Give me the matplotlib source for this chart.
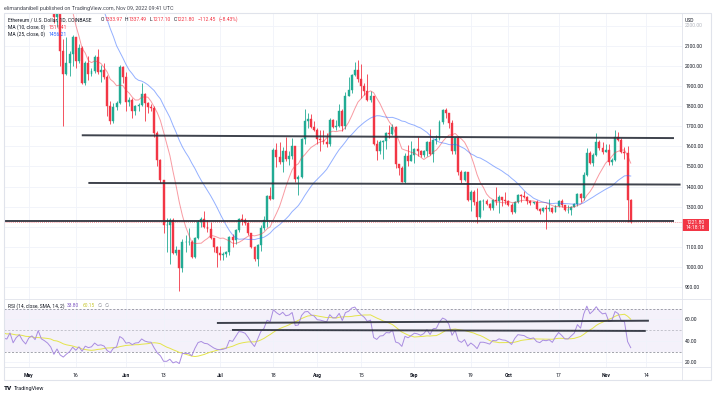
import numpy as np
import pandas as pd
import matplotlib
matplotlib.use('Agg')
import matplotlib.pyplot as plt
from matplotlib.lines import Line2D
from matplotlib.patches import Rectangle
from matplotlib.ticker import FuncFormatter

plt.rcParams['font.family'] = ['Roboto', 'DejaVu Sans']

# ETH/USD daily closes, Coinbase, 2022-03-10 .. 2022-11-09 (open = previous close)
closes_mar = [2610, 2555, 2570, 2520, 2590, 2620, 2775, 2815, 2945, 2950, 2860,
              2895, 2970, 3030, 3110, 3105, 3145, 3295, 3330, 3400, 3385, 3280]
closes_apr = [3450, 3445, 3525, 3520, 3410, 3170, 3235, 3190, 3260, 3210,
              2980, 3030, 3120, 3015, 3040, 3060, 2990, 3060, 3105, 3080,
              2985, 2965, 2935, 2920, 3005, 2810, 2890, 2935, 2815, 2730]
closes_may = [2825, 2860, 2780, 2940, 2750, 2700, 2635, 2520, 2245, 2340,
              2075, 1960, 2015, 2060, 2145, 2025, 2090, 1915, 2015, 1960,
              1975, 2045, 1970, 1980, 1945, 1800, 1725, 1795, 1815, 1995, 1945]
closes_jun = [1820, 1830, 1775, 1800, 1805, 1860, 1815, 1795, 1790, 1665,
              1530, 1435, 1210, 1210, 1235, 1070, 1085, 995, 1125, 1125,
              1125, 1050, 1145, 1225, 1240, 1200, 1190, 1145, 1100, 1070]
closes_jul = [1060, 1065, 1075, 1150, 1135, 1185, 1240, 1235, 1220, 1170,
              1100, 1040, 1110, 1195, 1235, 1355, 1340, 1580, 1545, 1520,
              1575, 1535, 1550, 1600, 1440, 1450, 1635, 1725, 1735, 1695, 1680]
closes_aug = [1635, 1630, 1620, 1610, 1730, 1695, 1700, 1775, 1700, 1850,
              1880, 1955, 1980, 1935, 1900, 1875, 1830, 1850, 1610, 1575,
              1620, 1625, 1665, 1660, 1695, 1510, 1490, 1425, 1550, 1525, 1555]
closes_sep = [1585, 1575, 1555, 1575, 1620, 1560, 1630, 1635, 1720, 1780,
              1765, 1715, 1575, 1640, 1470, 1435, 1470, 1335, 1375, 1325,
              1250, 1330, 1330, 1315, 1295, 1335, 1330, 1350, 1335, 1330]
closes_oct = [1310, 1275, 1325, 1360, 1355, 1350, 1330, 1320, 1325, 1290,
              1280, 1295, 1290, 1295, 1275, 1305, 1330, 1310, 1285, 1285,
              1300, 1315, 1365, 1345, 1460, 1565, 1515, 1555, 1620, 1590, 1570]
closes_nov = [1580, 1520, 1530, 1645, 1630, 1570, 1565, 1334, 1221.8]

# highs / lows from 2022-05-09 (earlier candles sit above the visible range)
highs_may = [2525, 2450, 2455, 2135, 2145, 2075, 2155, 2145, 2110, 2100, 2025, 2050,
             1990, 2055, 2085, 2005, 2015, 1955, 1825, 1815, 1825, 2005, 2000]
lows_may = [2215, 2195, 2000, 1700, 1955, 1950, 2000, 1990, 2015, 1910, 1905, 1930,
            1950, 1965, 1960, 1920, 1935, 1750, 1710, 1715, 1780, 1810, 1915]
highs_jun = [1970, 1845, 1840, 1805, 1815, 1915, 1865, 1820, 1810, 1800,
             1675, 1535, 1435, 1245, 1245, 1245, 1105, 1085, 1140, 1160,
             1195, 1135, 1150, 1235, 1250, 1280, 1235, 1225, 1145, 1105]
lows_jun = [1775, 1800, 1740, 1755, 1775, 1800, 1725, 1765, 1775, 1645,
            1500, 1420, 1170, 1075, 1015, 1065, 1060, 880, 975, 1075,
            1110, 1045, 1045, 1140, 1200, 1195, 1175, 1140, 1075, 1000]
highs_jul = [1105, 1075, 1080, 1155, 1165, 1190, 1245, 1265, 1245, 1225,
             1170, 1105, 1115, 1210, 1255, 1360, 1400, 1590, 1615, 1620,
             1595, 1645, 1575, 1640, 1600, 1460, 1640, 1785, 1765, 1760, 1725]
lows_jul = [1035, 1035, 1050, 1060, 1100, 1115, 1175, 1210, 1210, 1160,
            1095, 1030, 1005, 1080, 1185, 1200, 1335, 1340, 1495, 1510,
            1470, 1525, 1505, 1535, 1425, 1360, 1445, 1610, 1690, 1690, 1675]
highs_aug = [1690, 1680, 1680, 1665, 1740, 1735, 1730, 1810, 1785, 1870,
             1945, 1960, 2020, 2030, 2010, 1915, 1960, 1875, 1850, 1630,
             1630, 1630, 1670, 1705, 1710, 1700, 1510, 1500, 1565, 1605, 1625]
lows_aug = [1610, 1575, 1610, 1595, 1600, 1690, 1680, 1695, 1675, 1685,
            1850, 1865, 1950, 1920, 1840, 1855, 1825, 1820, 1605, 1530,
            1560, 1535, 1585, 1640, 1655, 1490, 1460, 1425, 1420, 1500, 1525]
highs_sep = [1590, 1645, 1580, 1580, 1625, 1685, 1635, 1655, 1730, 1785,
             1790, 1765, 1730, 1645, 1650, 1480, 1475, 1470, 1385, 1385,
             1395, 1335, 1340, 1340, 1320, 1340, 1400, 1360, 1350, 1375]
lows_sep = [1515, 1550, 1545, 1545, 1550, 1555, 1520, 1610, 1630, 1710,
            1740, 1690, 1560, 1560, 1460, 1420, 1430, 1330, 1280, 1310,
            1220, 1245, 1285, 1310, 1285, 1285, 1310, 1270, 1305, 1315]
highs_oct = [1335, 1320, 1330, 1365, 1365, 1380, 1355, 1335, 1325, 1335,
             1295, 1300, 1310, 1340, 1300, 1310, 1335, 1340, 1310, 1310,
             1305, 1320, 1370, 1370, 1470, 1590, 1575, 1565, 1665, 1630, 1620]
lows_oct = [1305, 1265, 1270, 1320, 1325, 1345, 1315, 1310, 1315, 1285,
            1265, 1275, 1190, 1280, 1270, 1275, 1300, 1300, 1280, 1270,
            1260, 1300, 1305, 1325, 1335, 1455, 1510, 1500, 1550, 1580, 1560]
highs_nov = [1610, 1610, 1540, 1680, 1670, 1640, 1595, 1600, 1337.49]
lows_nov = [1570, 1505, 1505, 1525, 1625, 1565, 1535, 1225, 1217.10]

# drawn horizontal lines (x in days from 2022-05-01)
level_x0 = [16.9, 19.0, -10.0]
level_x1 = [205.8, 207.9, 205.8]
level_p0 = [1655, 1418, 1231]
level_p1 = [1641, 1410, 1231]
rsi_line_x0 = [60.0, 64.8]
rsi_line_x1 = [197.8, 196.8]
rsi_line_v0 = [56.7, 50.2]
rsi_line_v1 = [58.8, 49.3]

tick_days = [0, 15, 31, 43, 61, 78, 92, 106, 123, 141, 153, 169, 184, 197]
tick_labels = ['May', '16', 'Jun', '13', 'Jul', '18', 'Aug', '15', 'Sep', '19', 'Oct', '17', 'Nov', '14']

closes = np.array(closes_mar + closes_apr + closes_may + closes_jun + closes_jul
                  + closes_aug + closes_sep + closes_oct + closes_nov, dtype=float)
highs = np.array(highs_may + highs_jun + highs_jul + highs_aug + highs_sep + highs_oct + highs_nov)
lows = np.array(lows_may + lows_jun + lows_jul + lows_aug + lows_sep + lows_oct + lows_nov)

dates = pd.date_range('2022-03-10', periods=len(closes), freq='D')
days = np.array((dates - pd.Timestamp('2022-05-01')).days, dtype=float)
opens = np.r_[closes[0], closes[:-1]]

ma10 = pd.Series(closes).rolling(10).mean().values
ma25 = pd.Series(closes).rolling(25).mean().values

# RSI 14 (Wilder) and its 14 SMA
delta = np.diff(closes)
up = np.clip(delta, 0, None)
dn = np.clip(-delta, 0, None)
rsi = np.full(len(closes), np.nan)
au, ad = up[:14].mean(), dn[:14].mean()
rsi[14] = 100 - 100 / (1 + au / ad)
for i in range(14, len(delta)):
    au = (au * 13 + up[i]) / 14
    ad = (ad * 13 + dn[i]) / 14
    rsi[i + 1] = 100 - 100 / (1 + au / ad)
rsi_ma = pd.Series(rsi).rolling(14).mean().values

vis = len(closes) - len(highs)
cd, co, cc = days[vis:], opens[vis:], closes[vis:]
ch = np.maximum(highs, np.maximum(co, cc))
cl = np.minimum(lows, np.minimum(co, cc))

W, H = 714, 395
def fx(x):
    return x / W
def fy(y):
    return 1 - y / H

up_col, dn_col = '#22ab94', '#f23645'
txt = '#131722'
grid_col = '#f0f3fa'

fig = plt.figure(figsize=(7.14, 3.95), dpi=100)
renderer = fig.canvas.get_renderer()


def chain(x, y, parts, size, gap=0.0):
    # writes coloured pieces one after another on a line, x in pixels
    for s, col, extra in parts:
        t = fig.text(fx(x), fy(y), s, color=col, size=size, va='center')
        x += t.get_window_extent(renderer).width + extra + gap


L, R = 4, 681.5
ax = fig.add_axes([fx(L), fy(298.5), (R - L) / W, (298.5 - 13) / H])
rax = fig.add_axes([fx(L), fy(367.3), (R - L) / W, (367.3 - 299.3) / H])
xlim = ((L - 28.8) / 3.135, (R - 28.8) / 3.135)

for a in (ax, rax):
    a.set_xlim(*xlim)
    for s in a.spines.values():
        s.set_visible(False)
    a.set_xticks(tick_days)
    a.grid(True, color=grid_col, lw=0.6)
    a.set_axisbelow(True)
    a.yaxis.tick_right()
    a.tick_params(axis='both', length=0, labelsize=3.6, labelcolor=txt, pad=2.6)

# price pane
ax.set_ylim(843.7, 2262.7)
ax.set_yticks(range(900, 2300, 100))
ax.yaxis.set_major_formatter(FuncFormatter(lambda v, p: '' if v in (1200, 2200) else f'{v:.2f}'))
ax.tick_params(axis='x', labelbottom=False)

cols = [up_col if c >= o else dn_col for o, c in zip(co, cc)]
ax.vlines(cd, cl, ch, colors=cols, lw=0.6, zorder=2)
ax.bar(cd, cc - co, bottom=co, width=0.62, color=cols, edgecolor=cols, lw=0.3, zorder=3)

ax.plot(days, ma10, color='#f23645', alpha=0.5, lw=0.7, zorder=4)
ax.plot(days, ma25, color='#2962ff', alpha=0.5, lw=0.7, zorder=4)

for x0, x1, p0, p1 in zip(level_x0, level_x1, level_p0, level_p1):
    ax.plot([x0, x1], [p0, p1], color='#2a2e39', lw=1.4, alpha=0.9, solid_capstyle='butt', zorder=5)

ax.axhline(closes[-1], color='#f23645', lw=0.6, ls=(0, (1, 1.5)), alpha=0.7, zorder=1)

# RSI pane
rax.set_ylim(15.5, 78.7)
rax.set_yticks([20, 40, 60])
rax.yaxis.set_major_formatter(FuncFormatter(lambda v, p: f'{v:.2f}'))
rax.set_xticklabels(tick_labels)
rax.tick_params(axis='x', pad=4.0)
for lab in rax.get_xticklabels():
    if not lab.get_text().isdigit():
        lab.set_fontweight('bold')
rax.axhspan(30, 70, color='#7e57c2', alpha=0.08, lw=0, zorder=0)
for lvl, al in ((70, 0.8), (50, 0.45), (30, 0.8)):
    rax.axhline(lvl, color='#787b86', lw=0.6, ls=(0, (2.5, 2)), alpha=al, zorder=1)
rax.plot(days, rsi_ma, color='#e4e44a', lw=0.7, zorder=3)
rax.plot(days, rsi, color='#a98ce0', lw=0.7, zorder=4)
for x0, x1, v0, v1 in zip(rsi_line_x0, rsi_line_x1, rsi_line_v0, rsi_line_v1):
    rax.plot([x0, x1], [v0, v1], color='#2a2e39', lw=1.4, alpha=0.9, solid_capstyle='butt', zorder=5)

# frame and separators
fig.add_artist(Rectangle((fx(3.5), fy(380)), (710.5 - 3.5) / W, (380 - 13) / H,
                         transform=fig.transFigure, fill=False, ec='#e0e3eb', lw=0.8))
for yy in (298.9, 367.3):
    fig.add_artist(Line2D([fx(3.5), fx(710.5)], [fy(yy), fy(yy)], color='#e0e3eb', lw=0.6))
fig.add_artist(Line2D([fx(R), fx(R)], [fy(13), fy(380)], color='#e0e3eb', lw=0.6))

# price label
fig.add_artist(Rectangle((fx(R), fy(231)), (709 - R) / W, (231 - 218.5) / H,
                         transform=fig.transFigure, color='#f23645', lw=0))
fig.text(fx(695.5), fy(222.3), f'{closes[-1]:.2f}', color='white', size=3.6, ha='center', va='center')
fig.text(fx(695.5), fy(227.8), '14:18:18', color='white', size=3.6, ha='center', va='center')
fig.text(fx(685), fy(20), 'USD', color=txt, size=3.6, va='center')
fig.text(fx(685), fy(25.6), '2200.00', color='#b2b5be', size=3.6, va='center')

# header and legends
fig.text(fx(4), fy(8.5), 'elimandanibell published on TradingView.com, Nov 09, 2022 09:41 UTC',
         color='#434651', size=3.9, va='center')
fig.text(fx(8.3), fy(19.5), 'Ethereum / U.S. Dollar, 1D, COINBASE', color=txt, size=3.6, va='center')
chain(100.7, 19.5, [('O', txt, 0), ('1333.97', dn_col, 3), ('H', txt, 0), ('1337.49', dn_col, 3),
                    ('L', txt, 0), ('1217.10', dn_col, 3), ('C', txt, 0), ('1221.80', dn_col, 3),
                    ('\u2212112.45', dn_col, 3), ('(\u22128.43%)', dn_col, 0)], 3.6)
chain(8.3, 27.3, [('MA (10, close, 0)', txt, 3), ('1511.41', dn_col, 0)], 3.6)
chain(8.3, 34.5, [('MA (25, close, 0)', txt, 3), ('1456.21', '#2962ff', 0)], 3.6)
chain(7.5, 305.7, [('RSI (14, close, SMA, 14, 2)', txt, 3), ('33.80', '#7e57c2', 3),
                   ('60.15', '#c8c830', 3), ('\u2205', '#787b86', 3), ('\u2205', '#787b86', 0)], 3.5)

fig.text(fx(4), fy(388.3), 'TV', color='#131722', size=4.6, weight='heavy', va='center')
fig.text(fx(13.5), fy(388.3), 'TradingView', color='#131722', size=4.0, va='center')

fig.savefig('out.png', dpi=100)
